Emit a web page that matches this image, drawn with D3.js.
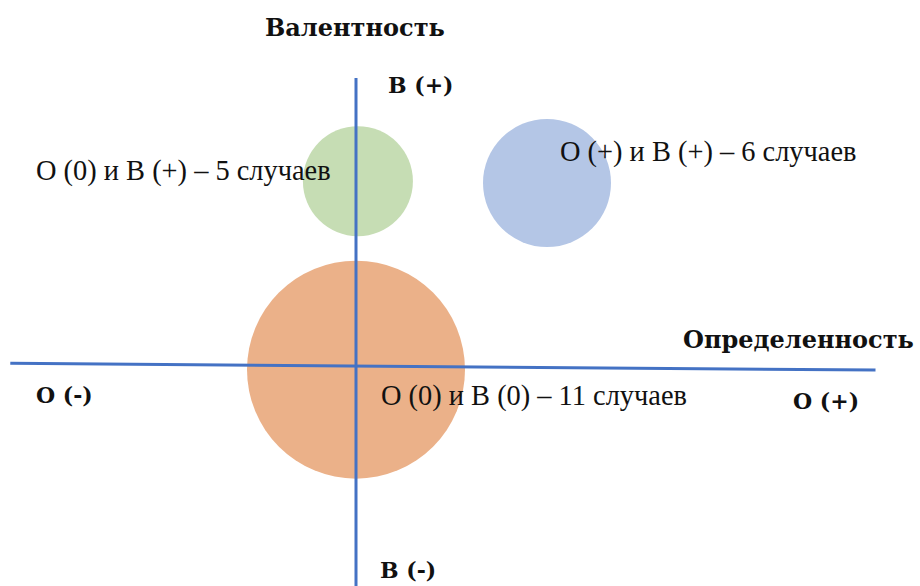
<!DOCTYPE html>
<html>
<head>
<meta charset="utf-8">
<script src="https://cdn.jsdelivr.net/npm/d3@7"></script>
<style>
  body { margin: 0; background: #fff; }
  .lbl { font-family: "Liberation Serif", serif; font-size: 28.4px; fill: #111; }
  .ax { font-family: "DejaVu Serif", serif; font-size: 22px; font-weight: bold; fill: #111; }
  .title { font-family: "DejaVu Serif", serif; font-size: 24px; font-weight: bold; fill: #111; }
</style>
</head>
<body>
<div class="chart"></div>
<script>
//Data
var labels = ["O (0) и B (0) – 11 случаев", "O (0) и B (+) – 5 случаев", "O (+) и B (+) – 6 случаев"];
var certainty = [0, 0.01, 1];   // O
var valence = [-0.02, 1.01, 1];  // B
var cases = [11, 5, 6];
var colors = ["#ebb189", "#c6ddb4", "#b4c6e6"];

var svgWidth = 920;
var svgHeight = 586;

var svg = d3.select(".chart")
    .append("svg")
    .attr("width", svgWidth)
    .attr("height", svgHeight);

//Scales
var xScale = d3.scaleLinear().domain([0, 1]).range([356, 547]);
var yScale = d3.scaleLinear().domain([0, 1]).range([366, 183]);
var rScale = d3.scaleLinear().domain([0, 11]).range([10, 109]);

var data = labels.map(function(l, i) {
    return { label: l, x: certainty[i], y: valence[i], n: cases[i], color: colors[i] };
});

//Bubbles
svg.selectAll("circle")
    .data(data)
    .enter()
    .append("circle")
    .attr("cx", d => xScale(d.x))
    .attr("cy", d => yScale(d.y))
    .attr("r", d => rScale(d.n))
    .attr("fill", d => d.color);

//Axes lines
svg.append("line")
    .attr("x1", xScale(-1.81)).attr("y1", yScale(0.015))
    .attr("x2", xScale(2.72)).attr("y2", yScale(-0.022))
    .attr("stroke", "#4472c4")
    .attr("stroke-width", 3);

svg.append("line")
    .attr("x1", xScale(0)).attr("y1", yScale(1.574))
    .attr("x2", xScale(0)).attr("y2", yScale(-1.21))
    .attr("stroke", "#4472c4")
    .attr("stroke-width", 3);

//Bubble labels
var labelPos = [[381, 405], [36, 180], [560, 161]];
svg.selectAll(".lbl")
    .data(data)
    .enter()
    .append("text")
    .attr("class", "lbl")
    .attr("x", (d, i) => labelPos[i][0])
    .attr("y", (d, i) => labelPos[i][1])
    .text(d => d.label);

//Axis titles
svg.append("text").attr("class", "title").attr("x", 265).attr("y", 36).text("Валентность");
svg.append("text").attr("class", "title").attr("x", 683).attr("y", 348).text("Определенность");
svg.append("text").attr("class", "ax").attr("x", 388).attr("y", 93).text("B (+)");
svg.append("text").attr("class", "ax").attr("x", 380).attr("y", 578).text("B (-)");
svg.append("text").attr("class", "ax").attr("x", 36).attr("y", 403).text("O (-)");
svg.append("text").attr("class", "ax").attr("x", 793).attr("y", 409).text("O (+)");
</script>
</body>
</html>
